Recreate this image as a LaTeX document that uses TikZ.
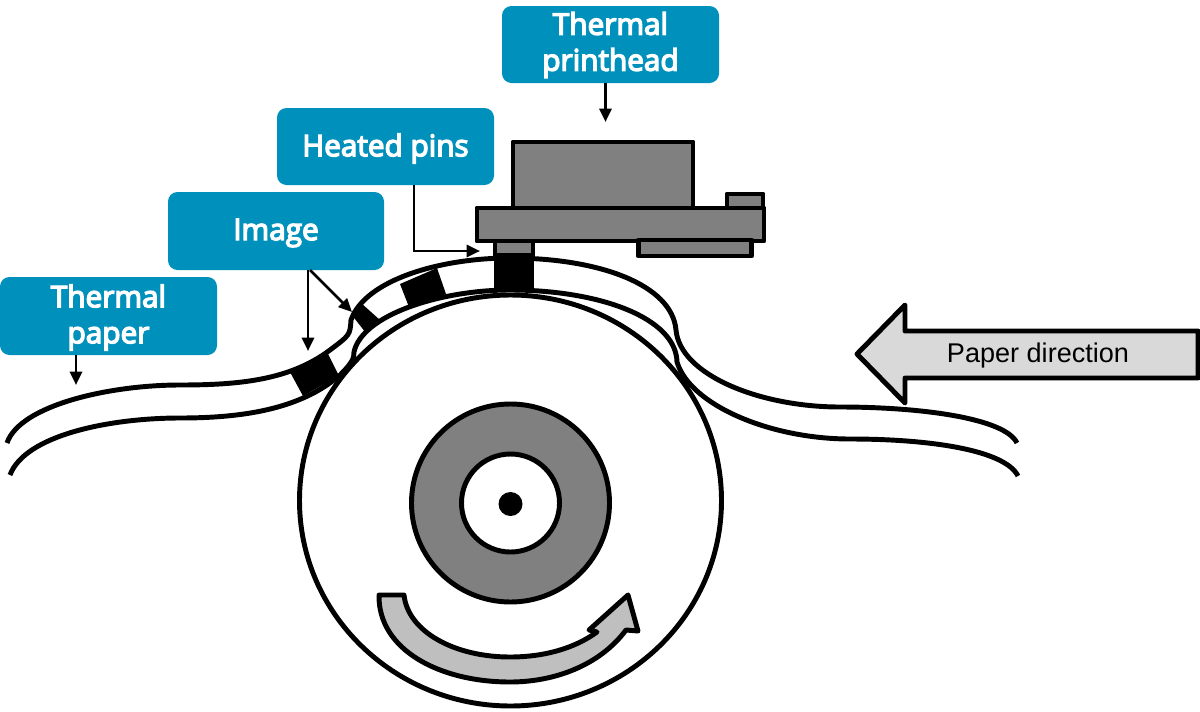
\documentclass[tikz,border=0pt]{standalone}
\usepackage{fontspec}
\setmainfont{Liberation Sans}
\newfontfamily\labfont[FakeBold=4.5]{Open Sans}
\definecolor{teal0}{HTML}{0090BC}
\definecolor{gray0}{HTML}{808080}
\definecolor{gray1}{HTML}{D9D9D9}
\definecolor{gray2}{HTML}{BFBFBF}
\usetikzlibrary{arrows.meta,calc}
\tikzset{
 lab/.style={fill=teal0,rounded corners=9.5pt*0.75,inner sep=0pt,anchor=center},
 txt/.style={text=white,font=\labfont\fontsize{22.3}{27}\selectfont,align=center,inner sep=0pt,anchor=center},
 part/.style={draw=black,fill=gray0,line width=3.7pt,line join=round},
 paperline/.style={draw=black,line width=3.7pt},
 blk/.style={fill=black,draw=none},
 conn/.style={draw=black,line width=2.1pt,-{Triangle[length=10pt,width=9pt]}},
}
\begin{document}
\begin{tikzpicture}[x=0.75pt,y=-0.75pt]
\useasboundingbox (0,0) rectangle (1200,711);
% roller
\draw[draw=black,fill=white,line width=3.7pt] (510.5,500.5) ellipse[x radius=211,y radius=205.5];
\draw[part] (510.5,503) circle[radius=99];
\draw[draw=black,fill=white,line width=3.7pt] (510.5,503) circle[radius=49];
\fill[black] (510.5,504) circle[radius=12];
% rotation arrow
\draw[draw=black,fill=gray2,line width=3.7pt,line join=round]
 (379,595) -- (404,595)
 .. controls (408,632) and (455,657) .. (510,657)
 .. controls (545,657) and (575,648) .. (597,632)
 -- (589,630) -- (628,595) -- (638,631) -- (626,630)
 .. controls (600,665) and (555,682) .. (510,682)
 .. controls (440,682) and (378,650) .. (379,595) -- cycle;
% printhead
\draw[part] (727,194) rectangle (763,208);
\draw[part] (513,142) rectangle (693,208);
\draw[part] (477,208) rectangle (764,241);
\draw[part] (638.5,240) rectangle (751.5,256);
\draw[part] (495,241) rectangle (533,256);
% image blocks
\fill[blk] (494,253) rectangle (534,292);
\fill[blk] (400,284) -- (437,268) -- (446,294) -- (409,307) -- cycle;
\fill[blk] (351,314) -- (361,303) -- (380,320) -- (366,333) -- cycle;
\fill[blk] (290,372) -- (328,354) -- (339,376) -- (303,396) -- cycle;
% paper
\draw[paperline] (7,443) .. controls (20,405) and (110,385) .. (180,385)
 .. controls (240,385) and (290,380) .. (330,350)
 .. controls (350,335) and (350,335) .. (351,320)
 .. controls (365,280) and (440,258) .. (510,258)
 .. controls (600,258) and (672,285) .. (676,330)
 .. controls (680,375) and (760,407) .. (840,407)
 .. controls (920,407) and (1005,418) .. (1017,443);
\draw[paperline] (10,475) .. controls (25,435) and (110,418) .. (180,418)
 .. controls (240,418) and (300,410) .. (340,375)
 .. controls (353,362) and (354,358) .. (354,352)
 .. controls (362,315) and (440,290) .. (510,290)
 .. controls (600,290) and (676,318) .. (677,362)
 .. controls (690,405) and (770,439) .. (850,439)
 .. controls (930,439) and (1005,450) .. (1018,476);
% paper direction
\draw[draw=black,fill=gray1,line width=3.7pt,line join=round]
 (857,354) -- (905,305) -- (905,331) -- (1198,331) -- (1198,378) -- (905,378) -- (905,403) -- cycle;
\node[font=\fontsize{20.3}{24}\selectfont,inner sep=0pt] (dirlabel) at (1038,355) {Paper direction};
% labels
\node[lab,minimum width=217*0.75pt,minimum height=77*0.75pt] (head) at (610.5,44.5) {};
\node[lab,minimum width=217*0.75pt,minimum height=77*0.75pt] (pins) at (385.5,146.5) {};
\node[lab,minimum width=216*0.75pt,minimum height=78*0.75pt] (image) at (276,231) {};
\node[lab,minimum width=217*0.75pt,minimum height=78*0.75pt] (tpaper) at (108.5,316) {};
\node[txt] (headt) at (610.5,45) {Thermal\\printhead};
\node[txt] (pinst) at (385.5,148.5) {Heated pins};
\node[txt] (imaget) at (276,233) {Image};
\node[txt] (tpapert) at (108.5,317.5) {Thermal\\paper};
% connector ends
\coordinate (e1) at (605.5,122);
\coordinate (e2) at (480,251);
\coordinate (e3) at (308,351);
\coordinate (e4) at (352,312);
\coordinate (e5) at (76,385);
\draw[conn] (head.south -| e1) -- (e1);
\draw[conn] (pins.south -| 414,0) -- (414,251) -- (e2);
\draw[conn] (image.south -| e3) -- (e3);
\draw[conn] (310,270) -- (e4);
\draw[conn] (tpaper.south -| e5) -- (e5);
\end{tikzpicture}
\end{document}
